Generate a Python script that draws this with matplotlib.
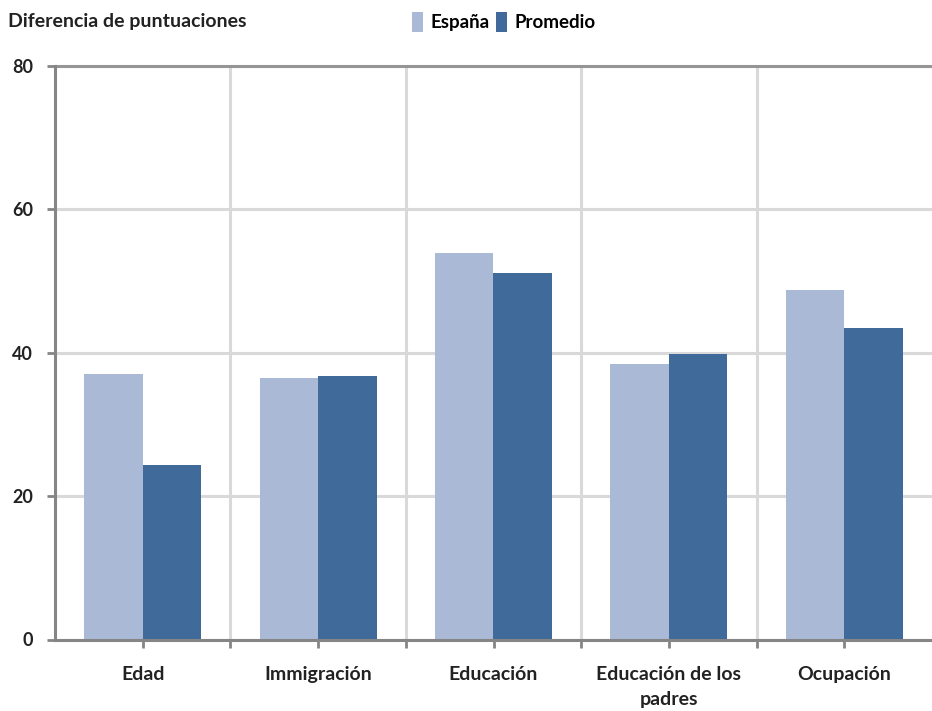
import matplotlib.pyplot as plt
import numpy as np

plt.rcParams['font.family'] = ['Lato', 'DejaVu Sans']

categorias = ['Edad', 'Immigración', 'Educación', 'Educación de los\npadres', 'Ocupación']
espana = [37.0, 36.5, 53.9, 38.4, 48.7]
promedio = [24.3, 36.8, 51.1, 39.8, 43.5]

col_esp = '#aab9d6'
col_prom = '#3f6a9a'

fig = plt.figure(figsize=(9.32, 7.11), dpi=100)
ax = fig.add_axes([55 / 932, 71.5 / 711, 877 / 932, 573.5 / 711])

x = np.arange(len(categorias))
w = 1 / 3
ax.bar(x - w / 2, espana, width=w, color=col_esp, label='España', zorder=3)
ax.bar(x + w / 2, promedio, width=w, color=col_prom, label='Promedio', zorder=3)

ax.set_xlim(-0.5, len(categorias) - 0.5)
ax.set_ylim(0, 80)
ax.set_yticks([0, 20, 40, 60, 80])

# gridlines between categories, ticks at both centres and boundaries
ax.set_xticks(x)
ax.set_xticklabels(categorias, fontsize=14, fontweight='bold', color='#222222', linespacing=1.6, va='top')
ax.set_xticks(np.arange(0.5, len(categorias) - 0.5, 1), minor=True)
ax.grid(axis='x', which='minor', color='#d9d9d9', linewidth=2.2, zorder=0)
ax.grid(axis='y', which='major', color='#d9d9d9', linewidth=2.2, zorder=0)
ax.tick_params(axis='x', which='both', length=6, width=2, color='#858585', pad=13)
ax.tick_params(axis='y', length=6, width=2, color='#858585', pad=10, labelsize=13)
for lab in ax.get_yticklabels():
    lab.set_fontweight('bold')
    lab.set_color('#222222')

for s in ['top', 'right']:
    ax.spines[s].set_visible(False)
for s in ['left', 'bottom']:
    ax.spines[s].set_color('#858585')
    ax.spines[s].set_linewidth(2.2)
    ax.spines[s].set_zorder(4)
# line at 80 drawn like the axis
ax.axhline(80, color='#959595', linewidth=2.2, zorder=4, clip_on=False)

fig.text(8 / 932, 1 - 22 / 711, 'Diferencia de puntuaciones', fontsize=14, fontweight='bold',
         color='#222222', va='center', ha='left')
fig.legend(loc='center left', bbox_to_anchor=(412 / 932, 1 - 22 / 711), ncol=2, frameon=False,
           handlelength=0.6, handleheight=1.2, handletextpad=0.4, columnspacing=0.3,
           prop={'size': 13.5, 'weight': 'bold'}, borderaxespad=0, borderpad=0)

fig.savefig('out.png', dpi=100)
